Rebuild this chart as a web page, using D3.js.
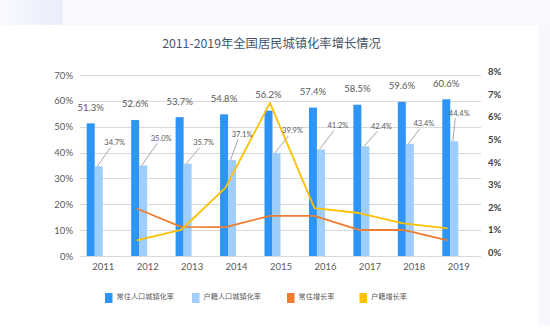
<!DOCTYPE html>
<html><head><meta charset="utf-8">
<script src="https://cdn.jsdelivr.net/npm/d3@7"></script>
<style>body{margin:0;background:#fff;}svg{display:block;}</style>
</head><body>
<svg id="c" width="550" height="333"></svg>
<script>
const years = ["2011","2012","2013","2014","2015","2016","2017","2018","2019"];
const residentRate = [51.3,52.6,53.7,54.8,56.2,57.4,58.5,59.6,60.6];
const hukouRate = [34.7,35.0,35.7,37.1,39.9,41.2,42.4,43.4,44.4];
const residentGrowth = [null,2.1,1.29,1.28,1.77,1.77,1.15,1.15,0.69];
const hukouGrowth = [null,0.69,1.15,3.02,6.77,2.12,1.9,1.44,1.22];
const leftTicks = [0,10,20,30,40,50,60,70];
const rightTicks = [0,1,2,3,4,5,6,7,8];
const seriesNames = ["常住人口城镇化率","户籍人口城镇化率","常住增长率","户籍增长率"];
// label nudges for the light-bar callouts (dx, dy from bar top)
const calloutNudge = [[16,-24],[18,-27],[16,-21],[10,-26],[16,-22],[17,-24],[16,-20],[14,-20],[5,-28]];

const svg = d3.select("#c");
const colors = {dark:"#2e95f7", light:"#9fcdfc", orange:"#ed7d31", yellow:"#ffc000"};
const numFont = "Lato, 'Open Sans', sans-serif";
const cjkFont = "'Noto Sans CJK SC', sans-serif";

// background decoration
const defs = svg.append("defs");
const g1 = defs.append("linearGradient").attr("id","tl").attr("x1","0").attr("x2","1");
g1.append("stop").attr("offset","0").attr("stop-color","#f9faff");
g1.append("stop").attr("offset","1").attr("stop-color","#e9edfb");
svg.append("rect").attr("x",0).attr("y",0).attr("width",550).attr("height",25).attr("fill","#f9f9fd");
svg.append("rect").attr("x",0).attr("y",0).attr("width",62).attr("height",25).attr("fill","url(#tl)");
svg.append("rect").attr("x",538).attr("y",25).attr("width",12).attr("height",300).attr("fill","#f7f8fd");

const x = d3.scaleBand().domain(years).range([81,481]).padding(0);
const yL = d3.scaleLinear().domain([0,70]).range([256,75]);
const yR = d3.scaleLinear().domain([0,8]).range([256,75]);
const cx = d => x(d) + x.bandwidth()/2;

// title
svg.append("text").attr("x",271.5).attr("y",48).attr("text-anchor","middle")
  .attr("font-family",cjkFont).attr("font-size",12.3).attr("fill","#44546a")
  .text("2011-2019年全国居民城镇化率增长情况");

// gridlines
svg.append("g").selectAll("line").data(leftTicks).join("line")
  .attr("x1",80).attr("x2",481).attr("y1",d=>Math.round(yL(d))+0.5).attr("y2",d=>Math.round(yL(d))+0.5)
  .attr("stroke","#d9d9d9").attr("stroke-width",1);

// left axis labels
const axL = d3.axisLeft(yL).tickValues(leftTicks).tickFormat(d=>d+"%").tickSize(0).tickPadding(0);
const gL = svg.append("g").attr("transform","translate(73,0)").call(axL);
gL.select(".domain").remove();
gL.selectAll("text").attr("font-family",numFont).attr("font-size",9.5).attr("fill","#595959");

// right axis labels
const axR = d3.axisRight(yR).tickValues(rightTicks).tickFormat(d=>d+"%").tickSize(0).tickPadding(0);
const gR = svg.append("g").attr("transform","translate(488,-3.5)").call(axR);
gR.select(".domain").remove();
gR.selectAll("text").attr("font-family",numFont).attr("font-size",9.5).attr("font-weight","bold").attr("fill","#404040");

// x axis labels
const axX = d3.axisBottom(x).tickSize(0).tickPadding(0);
const gX = svg.append("g").attr("transform","translate(0,263)").call(axX);
gX.select(".domain").remove();
gX.selectAll("text").attr("font-family",numFont).attr("font-size",9.5).attr("fill","#595959");

// bars
svg.append("g").selectAll("rect").data(years).join("rect")
  .attr("x",d=>cx(d)-16.5).attr("width",8)
  .attr("y",(d,i)=>yL(residentRate[i])).attr("height",(d,i)=>yL(0)-yL(residentRate[i]))
  .attr("fill",colors.dark);
svg.append("g").selectAll("rect").data(years).join("rect")
  .attr("x",d=>cx(d)-8.5).attr("width",8)
  .attr("y",(d,i)=>yL(hukouRate[i])).attr("height",(d,i)=>yL(0)-yL(hukouRate[i]))
  .attr("fill",colors.light);

// lines
const lineGen = d3.line().defined(d=>d.v!=null).x(d=>cx(d.y)-11).y(d=>yR(d.v));
svg.append("path").datum(years.map((y,i)=>({y,v:residentGrowth[i]})))
  .attr("d",lineGen).attr("fill","none").attr("stroke",colors.orange).attr("stroke-width",1.8).attr("stroke-linejoin","round");
svg.append("path").datum(years.map((y,i)=>({y,v:hukouGrowth[i]})))
  .attr("d",lineGen).attr("fill","none").attr("stroke",colors.yellow).attr("stroke-width",1.8).attr("stroke-linejoin","round");

// dark bar labels
svg.append("g").selectAll("text").data(years).join("text")
  .attr("x",d=>cx(d)-12.5).attr("y",(d,i)=>yL(residentRate[i])-12.5)
  .attr("text-anchor","middle").attr("font-family",numFont).attr("font-size",9.5).attr("fill","#595959")
  .text((d,i)=>residentRate[i].toFixed(1)+"%");

// light bar callouts
const cg = svg.append("g");
years.forEach((d,i)=>{
  const bx = cx(d)-6, by = yL(hukouRate[i]);
  const [dx,dy] = calloutNudge[i];
  const lx = cx(d)-4.5+dx, ly = by+dy;
  cg.append("line").attr("x1",bx).attr("y1",by).attr("x2",lx-4).attr("y2",ly+5)
    .attr("stroke","#a6a6a6").attr("stroke-width",1);
  cg.append("text").attr("x",lx).attr("y",ly+2.5).attr("text-anchor","middle")
    .attr("font-family",numFont).attr("font-size",7.5).attr("fill","#595959")
    .text(hukouRate[i].toFixed(1)+"%");
});

// legend
const legX = [105,192,287,359.5];
const legC = [colors.dark,colors.light,colors.orange,colors.yellow];
const lg = svg.append("g");
seriesNames.forEach((n,i)=>{
  lg.append("rect").attr("x",legX[i]).attr("y",293).attr("width",7.5).attr("height",10).attr("fill",legC[i]);
  lg.append("text").attr("x",legX[i]+11.5).attr("y",298.5)
    .attr("font-family",cjkFont).attr("font-size",7.2).attr("fill","#595959").text(n);
});
</script>
</body></html>
